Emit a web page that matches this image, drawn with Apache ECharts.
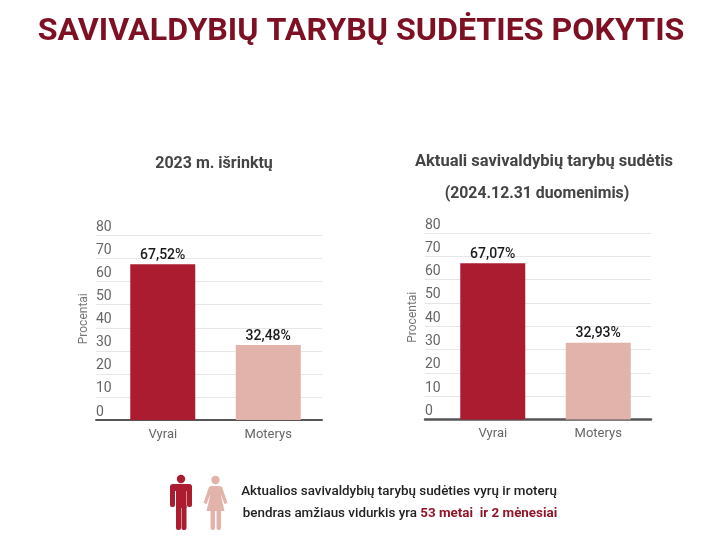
<!DOCTYPE html>
<html><head><meta charset="utf-8">
<style>html,body{margin:0;padding:0;background:#fff}#c{width:720px;height:559px}</style>
<script src="https://cdn.jsdelivr.net/npm/echarts@6/dist/echarts.min.js"></script></head>
<body><div id="c"></div>
<script>
const categories = ['Vyrai', 'Moterys'];
const values2023 = [67.52, 32.48];
const valuesCurrent = [67.07, 32.93];
const yTicks = [0, 10, 20, 30, 40, 50, 60, 70, 80];
const dark = '#ab1c30', light = '#e2b3ab';
const font = 'Roboto';

const chart = echarts.init(document.getElementById('c'), null, {renderer: 'canvas'});

const panels = [
  {axisLeft: 96, barLeft: 110, top: 235.5, height: 184.5, line: 2, data: values2023},
  {axisLeft: 425, barLeft: 440, top: 233, height: 186.5, line: 2.5, data: valuesCurrent}
];
const grid = [], xAxis = [], yAxis = [], series = [];
panels.forEach((p) => {
  const a = grid.length, b = a + 1;
  grid.push({left: p.axisLeft, width: 226, top: p.top, height: p.height});
  grid.push({left: p.barLeft, width: 211, top: p.top, height: p.height});
  xAxis.push({gridIndex: a, type: 'category', data: [''], axisTick: {show: false},
    axisLabel: {show: false}, axisLine: {lineStyle: {color: '#555', width: p.line}}});
  yAxis.push({gridIndex: a, type: 'value', min: 0, max: 80, interval: 10,
    name: 'Procentai', nameLocation: 'middle', nameGap: 6,
    nameTextStyle: {fontFamily: font, fontSize: 12, color: '#777', padding: [0, 0, 0, 18]},
    axisLine: {show: false}, axisTick: {show: false},
    axisLabel: {inside: true, margin: 0, verticalAlign: 'bottom', padding: [0, 0, 1, 0],
      fontFamily: font, fontSize: 14, color: '#666',
      formatter: (v) => yTicks.includes(v) ? String(v) : ''},
    splitLine: {lineStyle: {color: '#e6e6e6', width: 1}}});
  xAxis.push({gridIndex: b, type: 'category', data: categories,
    axisTick: {show: false}, axisLine: {show: false},
    axisLabel: {fontFamily: font, fontSize: 13, color: '#666', margin: 8}});
  yAxis.push({gridIndex: b, type: 'value', min: 0, max: 80, interval: 10, show: false, splitLine: {show: false}});
  series.push({type: 'bar', xAxisIndex: b, yAxisIndex: b, barWidth: 65, z: 3,
    data: p.data.map((v, i) => ({value: v, itemStyle: {color: i === 0 ? dark : light}})),
    label: {show: true, position: 'top', distance: 2, fontFamily: font, fontSize: 14, fontWeight: 500, color: '#1a1a1a',
      formatter: (d) => d.value.toFixed(2).replace('.', ',') + '%'}});
});

const txt = (x, y, text, size, color, weight) => ({type: 'text', x, y, style: {
  text, fontFamily: font, fontSize: size, fill: color, fontWeight: weight, align: 'center', verticalAlign: 'middle'}});
const head = (cx, cy, fill) => ({type: 'circle', shape: {cx, cy, r: 4.2}, style: {fill}});
const box = (x, y, width, height, r, fill) => ({type: 'rect', shape: {x, y, width, height, r}, style: {fill}});
const poly = (points, fill) => ({type: 'polygon', shape: {points}, style: {fill}});

const figureParts = [
  head(181, 479, dark),
  box(170, 484, 22, 7, 3, dark),
  box(170, 486, 5, 21, 2, dark),
  box(187, 486, 5, 21, 2, dark),
  box(176, 486, 10.500, 22, 0, dark),
  box(176, 504, 5, 26, 2, dark),
  box(181.500, 504, 5, 26, 2, dark),
  head(215.5, 480, light),
  poly([[211, 486], [220, 486], [222, 487], [227.500, 503], [224.500, 504], [220.500, 494], [224.500, 511], [206.500, 511], [210.500, 494], [206.500, 504], [203.500, 503], [209, 487]], light),
  box(210.500, 509, 4.500, 21, 2, light),
  box(216.500, 509, 4.500, 21, 2, light)
];

chart.setOption({
  animation: false, backgroundColor: '#fff', grid, xAxis, yAxis, series,
  graphic: [
    txt(361, 32, 'SAVIVALDYBIŲ TARYBŲ SUDĖTIES POKYTIS', 32.2, '#7d1022', 700),
    txt(214, 164, '2023 m. išrinktų', 16, '#444', 700),
    txt(544, 162, 'Aktuali savivaldybių tarybų sudėtis', 16.5, '#444', 700),
    txt(537, 194, '(2024.12.31 duomenimis)', 15.8, '#444', 700),
    txt(399, 492, 'Aktualios savivaldybių tarybų sudėties vyrų ir moterų', 13.4, '#222', 500),
    {type: 'text', x: 400, y: 514, style: {
      text: '{a|bendras amžiaus vidurkis yra }{b|53 metai  ir 2 mėnesiai}', align: 'center', verticalAlign: 'middle',
      rich: {a: {fontFamily: font, fontSize: 13.4, fontWeight: 500, fill: '#222', color: '#222'},
             b: {fontFamily: font, fontSize: 13.4, fontWeight: 700, fill: '#8f1528', color: '#8f1528'}}}}
  ].concat(figureParts)
});
</script></body></html>
